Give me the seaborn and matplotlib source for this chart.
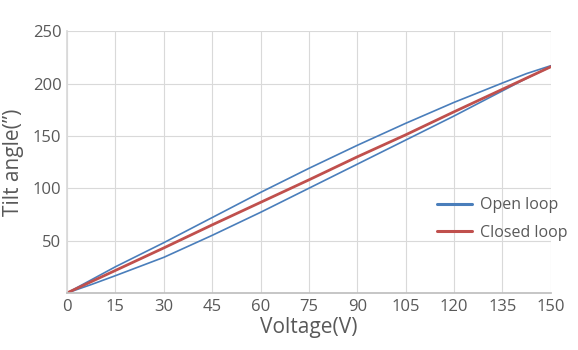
import numpy as np
import pandas as pd
import seaborn as sns
import matplotlib
matplotlib.use("Agg")
import matplotlib.pyplot as plt

# Data
voltage = [0, 7.5, 15, 30, 45, 60, 75, 90, 105, 120, 135, 142.5, 150]
open_up = [0, 8, 16.5, 34, 55, 77, 100, 123, 146, 169, 193, 205, 216]      # rising branch
open_down = [0, 12.5, 25, 48, 72, 96, 119, 141, 162, 182, 200.5, 209.5, 217]   # falling branch
closed_v = [0, 15, 30, 45, 60, 75, 90, 105, 120, 135, 150]
closed = [0, 21.5, 43, 65, 86.5, 108, 130, 151, 173, 194.5, 216]

x_ticks = [0, 15, 30, 45, 60, 75, 90, 105, 120, 135, 150]
y_ticks = [50, 100, 150, 200, 250]

sns.set_theme(style="white")
plt.rcParams['font.family'] = ['Open Sans', 'DejaVu Sans']

# Build open-loop hysteresis as a single path (up then back down)
ov = voltage + voltage[::-1]
oy = open_up + open_down[::-1]
df_open = pd.DataFrame({"V": ov, "T": oy})
df_closed = pd.DataFrame({"V": closed_v, "T": closed})

fig = plt.figure(figsize=(5.78, 3.5), dpi=100)
ax = fig.add_axes([0.116, 0.163, 0.837, 0.748])

blue = "#4a7ebb"
red = "#c0504d"
sns.lineplot(data=df_open, x="V", y="T", sort=False, estimator=None, ax=ax,
             color=blue, linewidth=1.2, label="Open loop")
sns.lineplot(data=df_closed, x="V", y="T", sort=False, estimator=None, ax=ax,
             color=red, linewidth=2.0, label="Closed loop")

ax.set_xlim(0, 150)
ax.set_ylim(0, 250)
ax.set_xticks(x_ticks)
ax.set_xticklabels([str(t) for t in x_ticks])
ax.set_yticks(y_ticks)
ax.set_yticklabels([str(t) for t in y_ticks])
ax.grid(True, color="#d9d9d9", linewidth=0.8)
ax.set_axisbelow(True)
for s in ["top", "right"]:
    ax.spines[s].set_visible(False)
ax.spines["left"].set_color("#d9d9d9")
ax.spines["bottom"].set_color("#bfbfbf")
ax.tick_params(axis="both", colors="#595959", labelsize=12, length=0, pad=4)
ax.set_xlabel("Voltage(V)", fontsize=15, color="#595959", labelpad=2)
ax.set_ylabel("Tilt angle(”)", fontsize=15, color="#595959", labelpad=6)

leg = ax.legend(loc="lower right", bbox_to_anchor=(1.065, 0.145), frameon=False,
                fontsize=11.5, handlelength=2.2, labelspacing=0.7, handletextpad=0.5)
for t in leg.get_texts():
    t.set_color("#595959")
for l in leg.get_lines():
    l.set_linewidth(2.2)

fig.savefig("out.png", dpi=100)
